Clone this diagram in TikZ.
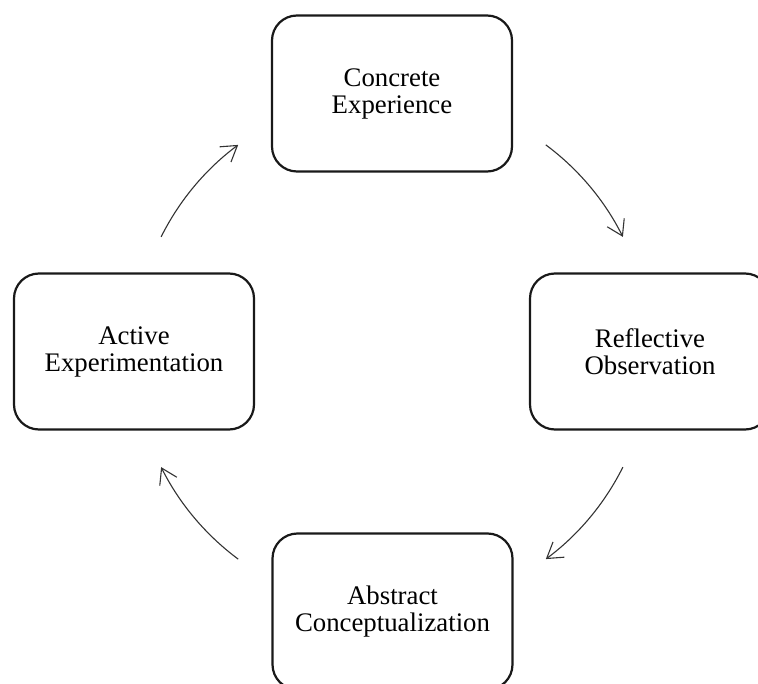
\documentclass[tikz,border=0pt]{standalone}
\usepackage{fontspec}
\setmainfont{Liberation Serif}
\usetikzlibrary{arrows.meta,calc}
\begin{document}
\begin{tikzpicture}[x=1pt,y=-1pt,
  stage/.style={draw=black!90, line width=2.2pt, rounded corners=25pt,
    minimum width=240pt, minimum height=156pt, inner sep=0pt,
    align=center, font=\fontsize{26.8}{27}\selectfont},
  flow/.style={draw=black!80, line width=1.1pt,
    -{Straight Barb[length=15pt,width=19pt,line width=1.1pt]}}]
\useasboundingbox (0,0) rectangle (758,684);
\clip (0,0) rectangle (758,684);
\node[stage] (ce) at (392,93.5) {Concrete\\Experience};
\node[stage] (ro) at (650,351.5) {Reflective\\Observation};
\node[stage] (ac) at (392.5,611.5) {Abstract\\Conceptualization};
\node[stage] (ae) at (134,351.5) {Active\\Experimentation};
\coordinate (ctr) at (392,352);
\coordinate (s1) at ($(ctr)+(-53.4:258)$);
\coordinate (s2) at ($(ctr)+(26.5:258)$);
\coordinate (s3) at ($(ctr)+(126.6:258)$);
\coordinate (s4) at ($(ctr)+(206.5:258)$);
\draw[flow] (s1) arc[start angle=-53.4, end angle=-26.5, radius=258];
\draw[flow] (s2) arc[start angle=26.5, end angle=53.4, radius=258];
\draw[flow] (s3) arc[start angle=126.6, end angle=153.5, radius=258];
\draw[flow] (s4) arc[start angle=206.5, end angle=233.4, radius=258];
\end{tikzpicture}
\end{document}
